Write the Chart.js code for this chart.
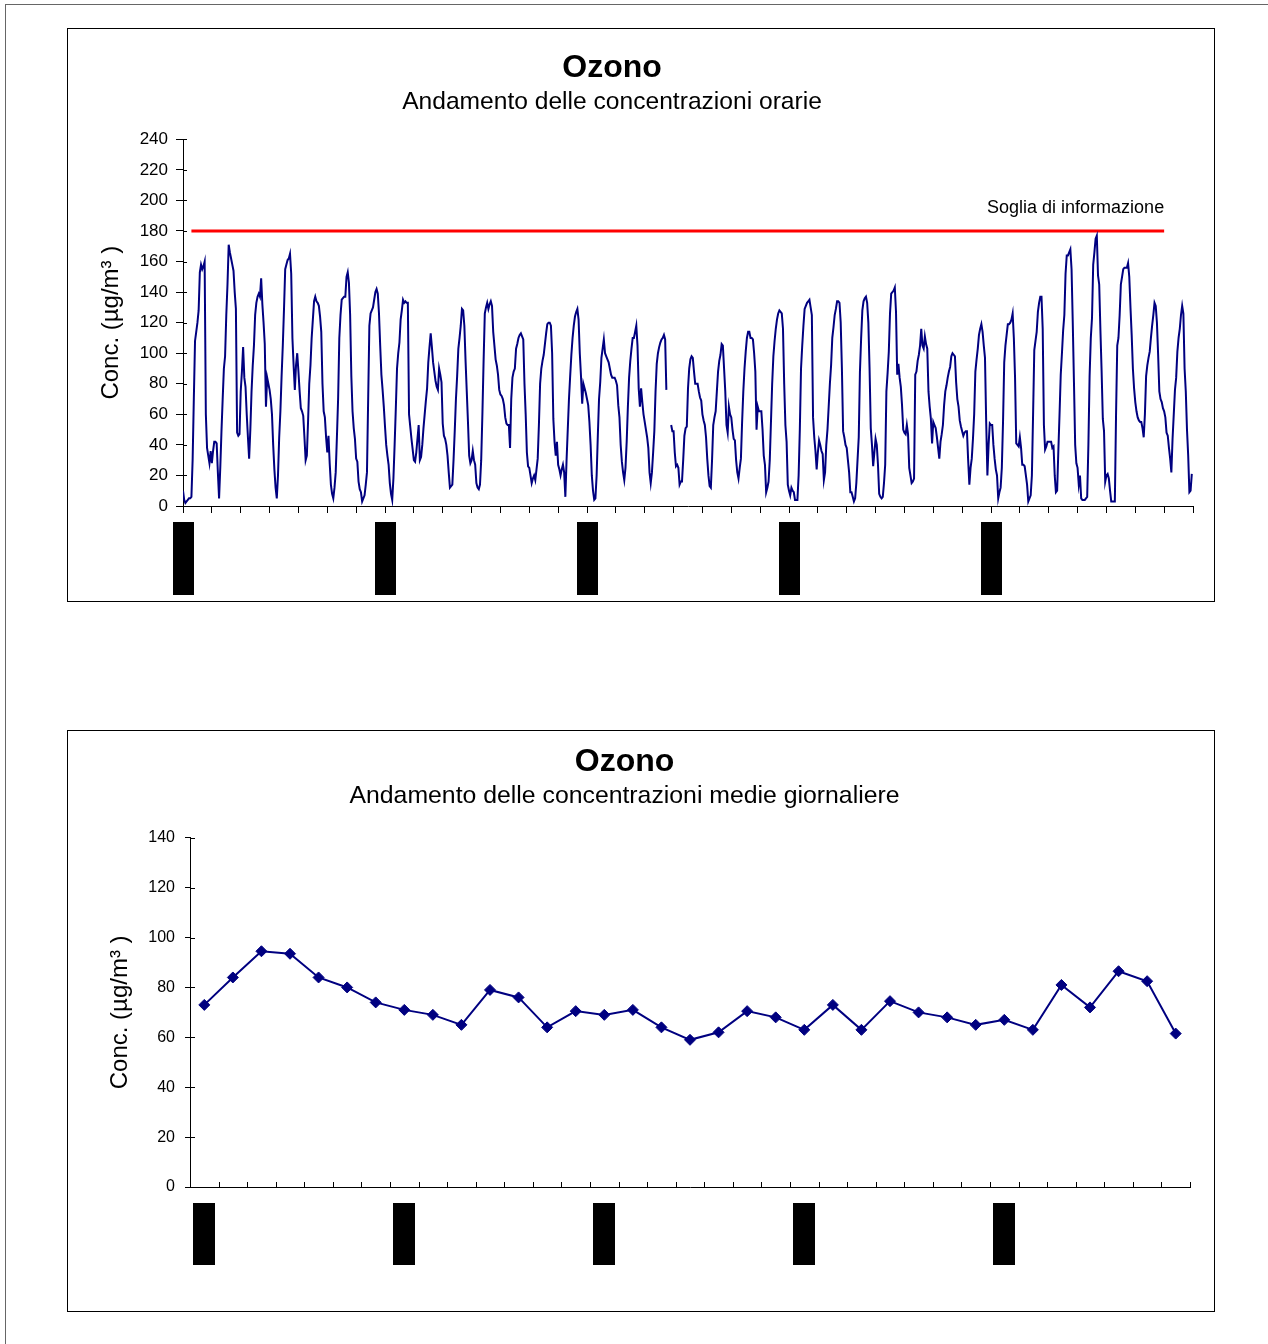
<!DOCTYPE html>
<html>
<head>
<meta charset="utf-8">
<script src="https://cdn.jsdelivr.net/npm/chart.js@4.4.0/dist/chart.umd.min.js"></script>
<style>
  body { margin: 0; width: 1268px; height: 1344px; position: relative; overflow: hidden; background: #fff; }
  .cornice { position: absolute; left: 5px; top: 4px; width: 1300px; height: 1400px;
             border-left: 1px solid #666; border-top: 1px solid #666; }
  .riquadro { position: absolute; border: 1px solid #000; box-sizing: border-box; pointer-events: none; }
  canvas { position: absolute; }
</style>
</head>
<body>
<div class="cornice"></div>
<canvas id="graficoOrario" width="1182" height="572" style="left:31px;top:29px"></canvas>
<div class="riquadro" style="left:67px;top:28px;width:1148px;height:574px"></div>
<canvas id="graficoGiornaliero" width="1154" height="580" style="left:59px;top:731px"></canvas>
<div class="riquadro" style="left:67px;top:730px;width:1148px;height:582px"></div>

<script>
/* ---- dati ---- */
const titolo = 'Ozono';
const sottotitoloOrario = 'Andamento delle concentrazioni orarie';
const sottotitoloGiorni = 'Andamento delle concentrazioni medie giornaliere';
const titoloAsseY = 'Conc. (µg/m³ )';
const testoSoglia = 'Soglia di informazione';

const giorni = [
  '01/06/2003', '02/06/2003', '03/06/2003', '04/06/2003', '05/06/2003', '06/06/2003', '07/06/2003',
  '08/06/2003', '09/06/2003', '10/06/2003', '11/06/2003', '12/06/2003', '13/06/2003', '14/06/2003',
  '15/06/2003', '16/06/2003', '17/06/2003', '18/06/2003', '19/06/2003', '20/06/2003', '21/06/2003',
  '22/06/2003', '23/06/2003', '24/06/2003', '25/06/2003', '26/06/2003', '27/06/2003', '28/06/2003',
  '29/06/2003', '30/06/2003', '01/07/2003', '02/07/2003', '03/07/2003', '04/07/2003', '05/07/2003'
];
const giorniEtichettati = [0, 7, 14, 21, 28];   // giorni con l'etichetta sotto l'asse
const orePerGiorno = 24;

// concentrazioni orarie, una riga per giorno (null = dato mancante)
const concOrarie = [
  10, 4, 2, 3, 4, 5, 5, 6, 30, 70, 108, 114, 120, 128, 153, 158, 155, 157, 160, 60, 38, 33, 28, 36,
  28, 36, 42, 42, 41, 22, 5, 25, 49, 70, 90, 98, 125, 145, 171, 166, 162, 158, 154, 140, 129, 48, 46, 47,
  75, 88, 104, 84, 78, 60, 45, 31, 50, 75, 92, 105, 125, 133, 137, 139, 137, 149, 132, 120, 106, 65, 84, 80,
  76, 70, 60, 40, 24, 12, 5, 20, 45, 62, 85, 105, 129, 155, 158, 161, 162, 165, 152, 110, 92, 76, 92, 100,
  88, 75, 64, 62, 59, 45, 30, 33, 55, 80, 92, 110, 122, 134, 137, 134, 133, 131, 124, 114, 80, 62, 58, 45,
  35, 46, 28, 14, 8, 5, 12, 22, 45, 70, 110, 125, 135, 136, 137, 137, 150, 153, 146, 125, 85, 62, 51, 44,
  31, 29, 16, 11, 9, 3, 5, 7, 14, 22, 70, 118, 126, 128, 130, 135, 140, 142, 139, 126, 105, 86, 76, 65,
  52, 40, 33, 27, 15, 8, 4, 18, 40, 64, 90, 100, 107, 122, 128, 135, 133, 134, 133, 133, 60, 52, 44, 37,
  30, 29, 35, 44, 53, 30, 32, 40, 51, 60, 69, 77, 94, 104, 113, 104, 94, 88, 82, 78, 76, 90, 86, 81,
  54, 46, 44, 40, 33, 22, 12, 13, 14, 30, 49, 70, 85, 103, 110, 118, 129, 128, 118, 95, 75, 55, 33, 28,
  30, 36, 30, 27, 15, 12, 11, 14, 30, 60, 95, 126, 130, 133, 129, 132, 134, 131, 114, 105, 96, 92, 86, 76,
  73, 72, 70, 66, 58, 54, 53, 53, 38, 70, 84, 88, 90, 103, 106, 110, 112, 113, 111, 109, 80, 60, 35, 26,
  25, 20, 15, 18, 20, 17, 24, 31, 53, 80, 90, 95, 99, 106, 113, 119, 120, 120, 118, 100, 57, 42, 33, 42,
  27, 24, 20, 24, 27, 22, 6, 30, 50, 70, 85, 99, 110, 118, 124, 127, 129, 122, 100, 85, 67, 80, 77, 74,
  70, 66, 55, 40, 20, 10, 4, 5, 20, 46, 70, 81, 97, 103, 109, 100, 98, 96, 94, 90, 86, 84, 84, 84,
  82, 79, 66, 58, 40, 29, 22, 17, 25, 42, 65, 84, 95, 103, 110, 110, 114, 118, 105, 77, 65, 77, 68, 60,
  55, 50, 45, 38, 22, 15, 22, 35, 49, 75, 93, 100, 104, 107, 109, 110, 112, 109, 76, null, null, null, 53, 49,
  49, 35, 26, 27, 25, 14, 16, 16, 30, 46, 51, 52, 77, 90, 96, 98, 97, 88, 80, 80, 80, 75, 71, 69,
  60, 56, 53, 45, 31, 20, 13, 12, 30, 53, 58, 62, 75, 88, 95, 99, 106, 105, 90, 75, 53, 48, 65, 60,
  58, 50, 44, 43, 30, 22, 18, 25, 31, 55, 75, 90, 101, 110, 114, 114, 110, 110, 109, 100, 88, 50, 65, 62,
  62, 62, 50, 33, 27, 9, 12, 16, 30, 55, 80, 98, 108, 116, 122, 126, 128, 127, 126, 116, 80, 53, 42, 14,
  10, 7, 12, 10, 9, 4, 4, 4, 20, 50, 90, 105, 118, 129, 131, 133, 134, 135, 130, 125, 58, 45, 36, 24,
  35, 43, 40, 36, 34, 17, 22, 40, 50, 65, 80, 92, 110, 117, 125, 129, 134, 134, 133, 120, 90, 49, 45, 40,
  38, 30, 22, 9, 9, 6, 3, 5, 15, 30, 45, 88, 110, 128, 134, 136, 137, 133, 120, 90, 51, 40, 26, 35,
  44, 40, 27, 8, 6, 5, 6, 15, 27, 75, 87, 101, 126, 139, 140, 141, 143, 127, 86, 93, 84, 78, 66, 50,
  48, 47, 53, 47, 25, 20, 15, 16, 18, 86, 88, 95, 99, 105, 116, 105, 103, 111, 106, 103, 75, 65, 57, 41,
  55, 53, 51, 45, 38, 31, 42, 47, 53, 66, 75, 79, 84, 88, 91, 98, 100, 99, 98, 81, 70, 65, 56, 52,
  49, 46, 48, 49, 49, 30, 14, 25, 31, 44, 60, 88, 96, 103, 112, 116, 119, 114, 105, 97, 55, 20, 40, 54,
  53, 53, 40, 31, 24, 20, 5, 9, 12, 25, 55, 94, 105, 112, 119, 119, 120, 122, 126, 110, 84, 41, 40, 39,
  45, 38, 27, 27, 26, 20, 14, 3, 5, 7, 20, 60, 102, 108, 114, 127, 133, 137, 137, 116, 53, 37, 39, 42,
  42, 42, 42, 38, 39, 20, 9, 10, 36, 60, 86, 100, 115, 125, 152, 164, 164, 166, 168, 155, 120, 81, 40, 28,
  25, 14, 20, 5, 4, 4, 4, 5, 6, 40, 85, 110, 123, 158, 166, 175, 177, 151, 145, 115, 88, 57, 49, 16,
  20, 21, 18, 10, 3, 3, 3, 3, 60, 105, 110, 125, 145, 150, 155, 156, 156, 156, 159, 150, 130, 112, 90, 77,
  68, 62, 58, 56, 55, 55, 51, 45, 60, 85, 92, 97, 101, 110, 118, 125, 133, 131, 120, 99, 75, 70, 68, 64,
  62, 58, 48, 46, 38, 31, 22, 44, 60, 76, 84, 101, 110, 116, 125, 131, 126, 90, 75, 50, 33, 9, 10, 21
];

const mediaGiornaliera = [
  73, 84, 94.5, 93.5, 84, 80, 74, 71, 69, 65, 79, 76, 64, 70.5, 69, 71, 64, 59,
  62, 70.5, 68, 63, 73, 63, 74.5, 70, 68, 65, 67, 63, 81, 72, 86.5, 82.5, 61.5
];

const sogliaInfo = 180;       // µg/m³
const sogliaDaOra = 7;        // la linea rossa va da quest'ora...
const sogliaAOra = 816;       // ...a questa

/* ---- font: il riferimento usa testo stretto, se c'e' lo usiamo ---- */
const prova = document.createElement('canvas').getContext('2d');
function larg(font, t) { prova.font = font; return prova.measureText(t).width; }
const haNarrow = larg('29px "Liberation Sans Narrow"', titoloAsseY) < 0.9 * larg('29px "Liberation Sans"', titoloAsseY);
const fontAsseY = haNarrow
  ? { family: '"Liberation Sans Narrow"', size: 29, lineHeight: 1.2 }
  : { family: '"Liberation Sans", Arial, sans-serif', size: 24, lineHeight: 1.2 };
const fontSoglia = haNarrow ? '22px "Liberation Sans Narrow"' : '18px "Liberation Sans", Arial, sans-serif';

Chart.defaults.font.family = '"Liberation Sans", Arial, sans-serif';
Chart.defaults.color = '#000';

/* ---- plugin ---- */
// date sotto l'asse x: blocchi neri con il testo ruotato
const etichetteNere = {
  id: 'etichetteNere',
  afterDraw(chart, args, opt) {
    const sc = chart.scales.x, ctx = chart.ctx;
    ctx.save();
    ctx.font = opt.font;
    opt.valori.forEach((v, i) => {
      const t = opt.testi[i];
      const px = sc.getPixelForValue(v);
      const alto = ctx.measureText(t).width + 2 * opt.pad;
      const y0 = sc.top + opt.distacco;
      ctx.fillStyle = '#000';
      ctx.fillRect(Math.round(px - opt.largo / 2), y0, opt.largo, Math.round(alto));
      ctx.save();
      ctx.translate(px, y0 + opt.pad);
      ctx.rotate(-Math.PI / 2);
      ctx.textAlign = 'right';
      ctx.textBaseline = 'middle';
      ctx.fillText(t, 0, 0);
      ctx.restore();
    });
    ctx.restore();
  }
};

// tacche che entrano nell'area del grafico
const taccheInterne = {
  id: 'taccheInterne',
  afterDraw(chart, args, opt) {
    const ctx = chart.ctx, ca = chart.chartArea;
    ctx.save();
    ctx.strokeStyle = '#000';
    ctx.lineWidth = 1;
    ctx.beginPath();
    if (opt.y) {
      const s = chart.scales.y;
      s.ticks.forEach(t => {
        const p = Math.round(s.getPixelForValue(t.value)) + 0.5;
        ctx.moveTo(ca.left, p);
        ctx.lineTo(ca.left + opt.y, p);
      });
    }
    if (opt.x) {
      const s = chart.scales.x;
      for (let i = 0; i <= s.getLabels().length; i++) {
        const p = Math.round(s.getPixelForValue(i - 0.5)) + 0.5;
        ctx.moveTo(p, ca.bottom);
        ctx.lineTo(p, ca.bottom - opt.x);
      }
    }
    ctx.stroke();
    ctx.restore();
  }
};

// scritta sopra la linea della soglia
const scrittaSoglia = {
  id: 'scrittaSoglia',
  afterDatasetsDraw(chart, args, opt) {
    const { x, y } = chart.scales, ctx = chart.ctx;
    ctx.save();
    ctx.font = opt.font;
    ctx.fillStyle = '#000';
    ctx.textAlign = 'right';
    ctx.textBaseline = 'middle';
    ctx.fillText(opt.testo, x.getPixelForValue(sogliaAOra), y.getPixelForValue(sogliaInfo) - opt.alzo);
    ctx.restore();
  }
};

/* ---- grafico orario ---- */
new Chart(document.getElementById('graficoOrario'), {
  type: 'line',
  data: {
    datasets: [
      {
        data: concOrarie.map((v, i) => ({ x: i, y: v })),
        borderColor: '#000080',
        borderWidth: 2,
        pointRadius: 0,
        tension: 0,
        spanGaps: false
      },
      {
        data: [{ x: sogliaDaOra, y: sogliaInfo }, { x: sogliaAOra, y: sogliaInfo }],
        borderColor: '#ff0000',
        borderWidth: 3,
        pointRadius: 0
      }
    ]
  },
  options: {
    responsive: false,
    animation: false,
    events: [],
    layout: { padding: { left: 0, right: 20, top: 0, bottom: 0 } },
    scales: {
      x: {
        type: 'linear', min: 0, max: orePerGiorno * giorni.length,
        ticks: { display: false, stepSize: orePerGiorno },
        grid: { drawOnChartArea: false, color: '#000', tickLength: 7 },
        border: { color: '#000' },
        afterFit: s => { s.height = 95; }
      },
      y: {
        min: 0, max: 240,
        ticks: { stepSize: 20, color: '#000', font: { size: 17 }, padding: 8 },
        grid: { drawOnChartArea: false, color: '#000', tickLength: 7 },
        border: { color: '#000' },
        title: {
          display: true, text: titoloAsseY, color: '#000', font: fontAsseY,
          padding: { top: 80 - fontAsseY.size * 0.6, bottom: 0 }
        },
        afterFit: s => { s.width = 152; }
      }
    },
    plugins: {
      legend: { display: false },
      tooltip: { enabled: false },
      title: {
        display: true, text: titolo, color: '#000',
        font: { size: 32, weight: 'bold' }, padding: { top: 20, bottom: 0 }
      },
      subtitle: {
        display: true, text: sottotitoloOrario, color: '#000',
        font: { size: 24.6 }, padding: { top: 0, bottom: 22.4 }
      },
      etichetteNere: {
        valori: giorniEtichettati.map(g => g * orePerGiorno),
        testi: giorniEtichettati.map(g => giorni[g]),
        font: '13px "Liberation Sans", Arial, sans-serif',
        largo: 21, pad: 4, distacco: 16
      },
      taccheInterne: { y: 4 },
      scrittaSoglia: { testo: testoSoglia, font: fontSoglia, alzo: 23 }
    }
  },
  plugins: [etichetteNere, taccheInterne, scrittaSoglia]
});

/* ---- grafico medie giornaliere ---- */
new Chart(document.getElementById('graficoGiornaliero'), {
  type: 'line',
  data: {
    labels: giorni,
    datasets: [{
      data: mediaGiornaliera,
      borderColor: '#000080',
      backgroundColor: '#000080',
      borderWidth: 2,
      pointStyle: 'rectRot',
      pointRadius: 5.5,
      pointBorderWidth: 1,
      tension: 0
    }]
  },
  options: {
    responsive: false,
    animation: false,
    events: [],
    layout: { padding: { left: 0, right: 23, top: 0, bottom: 0 } },
    scales: {
      x: {
        type: 'category', offset: true,
        ticks: { display: false },
        grid: { drawOnChartArea: false, drawTicks: false, offset: true },
        border: { color: '#000' },
        afterFit: s => { s.height = 124; }
      },
      y: {
        min: 0, max: 140,
        ticks: { stepSize: 20, color: '#000', font: { size: 16 }, padding: 10 },
        grid: { drawOnChartArea: false, color: '#000', tickLength: 5 },
        border: { color: '#000' },
        title: {
          display: true, text: titoloAsseY, color: '#000', font: fontAsseY,
          padding: { top: 61.6 - fontAsseY.size * 0.6, bottom: 0 }
        },
        afterFit: s => { s.width = 131; }
      }
    },
    plugins: {
      legend: { display: false },
      tooltip: { enabled: false },
      title: {
        display: true, text: titolo, color: '#000',
        font: { size: 32, weight: 'bold' }, padding: { top: 11.8, bottom: 0 }
      },
      subtitle: {
        display: true, text: sottotitoloGiorni, color: '#000',
        font: { size: 24.8 }, padding: { top: 0, bottom: 26.8 }
      },
      etichetteNere: {
        valori: giorniEtichettati,
        testi: giorniEtichettati.map(g => giorni[g]),
        font: '11px "Liberation Sans", Arial, sans-serif',
        largo: 22, pad: 3.5, distacco: 16
      },
      taccheInterne: { y: 5, x: 5 }
    }
  },
  plugins: [etichetteNere, taccheInterne]
});
</script>
</body>
</html>
